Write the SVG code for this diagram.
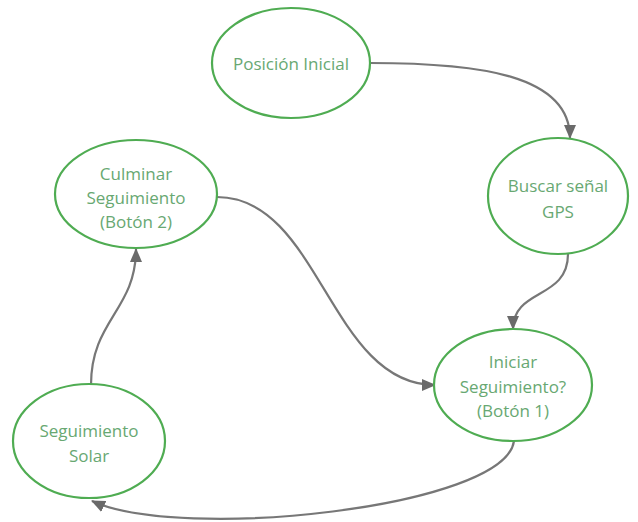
<svg xmlns="http://www.w3.org/2000/svg" width="638" height="522" viewBox="0 0 638 522">
<style>
.node ellipse{fill:#ffffff;stroke:#4fac52;stroke-width:2.2}
.node text{font-family:"Open Sans","Noto Sans",sans-serif;font-size:17px;fill:#68a872;text-anchor:middle}
.edge{fill:none;stroke:#777777;stroke-width:2.2;marker-end:url(#arr)}
</style>
<defs>
<marker id="arr" markerWidth="14" markerHeight="12" refX="13" refY="6" orient="auto" markerUnits="userSpaceOnUse">
<path d="M0,0 L14,6 L0,12 Z" fill="#6a6a6a"/>
</marker>
</defs>
<rect width="638" height="522" fill="#ffffff"/>
<g id="connectors">
<path class="edge" d="M370,63 C480,63 570,75 570,138"/>
<path class="edge" d="M568,254 C568,300 513,288 513,329"/>
<path class="edge" d="M217,197 C320,197 330,385 435,385"/>
<path class="edge" d="M514,441 C505,508 180,542 92,501"/>
<path class="edge" d="M91,385 C91,320 136,310 136,249"/>
</g>
<g id="posicion-inicial" class="node">
<ellipse cx="291" cy="63" rx="79" ry="55"/>
<text x="291" y="70">Posición Inicial</text>
</g>
<g id="buscar-gps" class="node">
<ellipse cx="558" cy="196" rx="70" ry="58"/>
<text x="558" y="192">Buscar señal</text>
<text x="558" y="218">GPS</text>
</g>
<g id="culminar" class="node">
<ellipse cx="136" cy="194" rx="81" ry="54"/>
<text x="136" y="180">Culminar</text>
<text x="136" y="204">Seguimiento</text>
<text x="136" y="228">(Botón 2)</text>
</g>
<g id="iniciar" class="node">
<ellipse cx="513" cy="385" rx="79" ry="56"/>
<text x="513" y="368">Iniciar</text>
<text x="513" y="393">Seguimiento?</text>
<text x="513" y="417">(Botón 1)</text>
</g>
<g id="seguimiento-solar" class="node">
<ellipse cx="89" cy="441" rx="76" ry="57"/>
<text x="89" y="437">Seguimiento</text>
<text x="89" y="462">Solar</text>
</g>
</svg>
